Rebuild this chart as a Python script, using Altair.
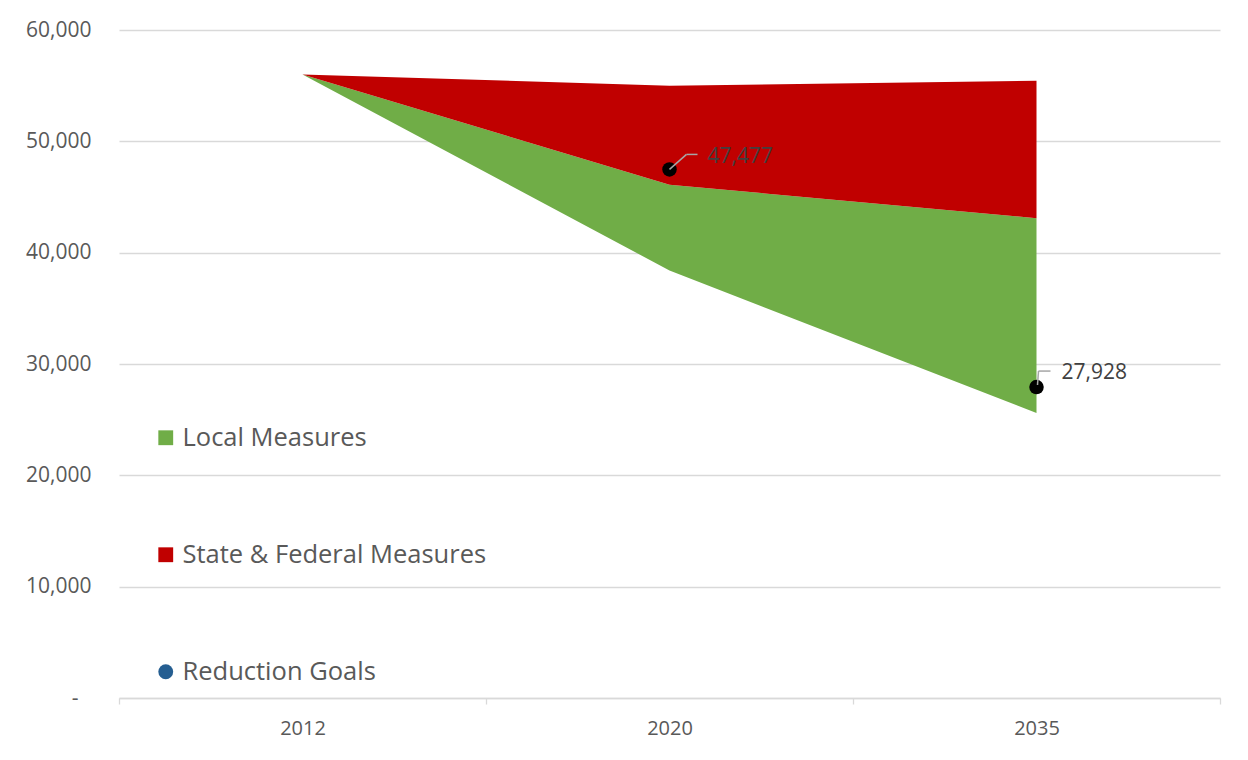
import altair as alt
import pandas as pd

# ---- data ----
years = ["2012", "2020", "2035"]
bau_top = [56000, 55000, 55450]          # top of red band
state_fed_low = [56000, 46100, 43100]    # boundary red / green
local_low = [56000, 38400, 25600]        # bottom of green band
goal_years = ["2020", "2035"]
goal_values = [47477, 27928]
series_names = ["Local Measures", "State & Federal Measures", "Reduction Goals"]
series_colors = ["#70AD47", "#C00000", "#255E91"]
series_shapes = ["square", "square", "circle"]

FONT = "Open Sans"
GREY = "#595959"
LIGHT = "#D9D9D9"

df = pd.DataFrame({"year": years, "top": bau_top, "mid": state_fed_low, "low": local_low})
goals = pd.DataFrame({"year": goal_years, "goal": goal_values,
                      "label": [f"{v:,}" for v in goal_values]})
leg = pd.DataFrame({"series": series_names, "year": [years[0]] * 3, "v": [bau_top[0]] * 3})

xscale = alt.Scale(type="band", domain=years, paddingInner=0, paddingOuter=0)
yscale = alt.Scale(domain=[0, 60000], nice=False)

x_axis = alt.Axis(title=None, labelAngle=0, tickBand="extent", grid=False,
                  domainColor=LIGHT, domainWidth=1.3, tickColor=LIGHT, tickWidth=1.3,
                  tickSize=6, labelPadding=14, labelFontSize=20, labelColor=GREY,
                  labelFont=FONT)
y_axis = alt.Axis(title=None, values=list(range(0, 60001, 10000)),
                  labelExpr="datum.value == 0 ? '-' : format(datum.value, ',')",
                  grid=True, gridColor=LIGHT, gridWidth=1.3, domain=False, ticks=False,
                  labelPadding={"condition": {"test": "datum.value == 0", "value": 41},
                                "value": 28},
                  labelFontSize=21, labelColor=GREY, labelFont=FONT)

X = alt.X("year:N", bandPosition=0.5, scale=xscale, axis=x_axis, sort=years)

green = alt.Chart(df).mark_area(color=series_colors[0], opacity=1).encode(
    x=X, y=alt.Y("low:Q", scale=yscale, axis=y_axis), y2="mid:Q")
red = alt.Chart(df).mark_area(color=series_colors[1], opacity=1).encode(
    x=X, y=alt.Y("mid:Q", scale=yscale, axis=y_axis), y2="top:Q")

# legend-only layer: rows are filtered out, the legend comes from the explicit scale domain
legend_layer = alt.Chart(leg).mark_point(filled=True, opacity=1).encode(
    x=X, y=alt.Y("v:Q", scale=yscale, axis=y_axis),
    color=alt.Color("series:N", scale=alt.Scale(domain=series_names, range=series_colors),
                    legend=alt.Legend(title=None, orient="none", legendX=34, legendY=395,
                                      symbolSize=220, symbolOpacity=1, symbolStrokeWidth=0,
                                      labelFontSize=25.5, labelColor=GREY, labelFont=FONT,
                                      labelOffset=4, rowPadding=90, padding=0,
                                      labelLimit=0)),
    shape=alt.Shape("series:N", scale=alt.Scale(domain=series_names, range=series_shapes)),
).transform_filter("false")

points = alt.Chart(goals).mark_circle(size=210, color="black", opacity=1).encode(
    x=X, y=alt.Y("goal:Q", scale=yscale, axis=y_axis))

layers = [green, red, legend_layer, points]

# leader lines + labels (offsets per label, as in the reference)
leader_cfg = {
    "2020": dict(seg1=(0, 0, 17, -15), seg2=(17, -15, 28, -15), dx=38, dy=-12),
    "2035": dict(seg1=(1, -2, 2, -16), seg2=(2, -16, 14, -16), dx=25, dy=-14),
}
for yr, cfg in leader_cfg.items():
    sub = goals[goals.year == yr]
    for seg in ("seg1", "seg2"):
        xo, yo, x2o, y2o = cfg[seg]
        layers.append(alt.Chart(sub).mark_rule(color="#A6A6A6", strokeWidth=1.5,
                                                xOffset=xo, yOffset=yo,
                                                x2Offset=x2o, y2Offset=y2o).encode(
            x=X, x2="year:N", y=alt.Y("goal:Q", scale=yscale, axis=y_axis), y2="goal:Q"))
    layers.append(alt.Chart(sub).mark_text(align="left", baseline="middle", dx=cfg["dx"],
                                           dy=cfg["dy"], fontSize=21, font=FONT,
                                           color="#404040").encode(
        x=X, y=alt.Y("goal:Q", scale=yscale, axis=y_axis), text="label:N"))

chart = alt.layer(*layers).properties(
    width=1101, height=668,
    padding={"left": 111, "top": 22, "right": 18, "bottom": 50},
    autosize=alt.AutoSizeParams(type="none"),
).configure(background="white").configure_view(stroke=None)

chart.save("out.html", embed_options={"renderer": "svg", "actions": False})
